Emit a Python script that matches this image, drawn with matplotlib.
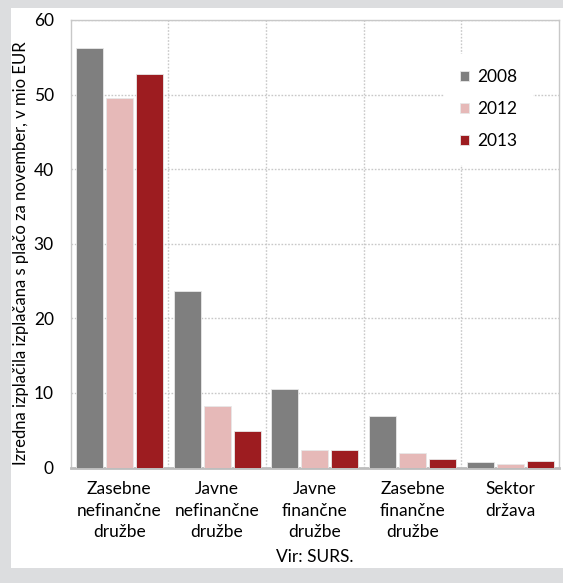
import numpy as np
import matplotlib
matplotlib.use("Agg")
import matplotlib.pyplot as plt
from matplotlib.patches import Rectangle

# sectors and payouts (mio EUR) per year
sectors = ["Zasebne\nnefinančne\ndružbe", "Javne\nnefinančne\ndružbe",
           "Javne\nfinančne\ndružbe", "Zasebne\nfinančne\ndružbe",
           "Sektor\ndržava"]
years = ["2008", "2012", "2013"]
vals_2008 = [56.3, 23.6, 10.5, 6.9, 0.7]
vals_2012 = [49.5, 8.2, 2.3, 1.9, 0.5]
vals_2013 = [52.8, 4.9, 2.4, 1.1, 0.9]

COLORS = ["#7f7f7f", "#e6b9b8", "#9d1c20"]
BG = "#dcdddf"
GRID = "#c8c8c8"
FS = 12.5

plt.rcParams['font.family'] = ['Lato', 'DejaVu Sans']

W, H = 563, 583
fig = plt.figure(figsize=(W / 100, H / 100), dpi=100, facecolor=BG)

# white card behind the chart
card = fig.add_axes([11 / W, 1 - 568 / H, (W - 11) / W, (568 - 8) / H])
card.set_zorder(0)
card.axis("off")
card.add_patch(Rectangle((0, 0), 1, 1, transform=card.transAxes,
                         facecolor="white", edgecolor="none"))

ax = fig.add_axes([70.5 / W, 1 - 467.5 / H, (559 - 70.5) / W, (467.5 - 20) / H])
ax.set_zorder(2)
ax.set_facecolor("white")

x = np.arange(len(sectors))
step, width = 0.307, 0.276
for i, (yr, vals) in enumerate(zip(years, [vals_2008, vals_2012, vals_2013])):
    ax.bar(x + (i - 1) * step, vals, width, color=COLORS[i], label=yr,
           edgecolor="#e8e8e8", linewidth=0.6, zorder=3)

ax.set_xlim(-0.5, len(sectors) - 0.5)
ax.set_ylim(0, 60)
ax.set_yticks(range(0, 61, 10))
ax.set_xticks(x)
ax.set_xticklabels(sectors, fontsize=FS, linespacing=1.4)
ax.set_xticks(x[:-1] + 0.5, minor=True)
ax.tick_params(axis="y", length=0, pad=12, labelsize=FS)
ax.tick_params(axis="x", which="both", length=0, pad=10)

ax.grid(axis="y", which="major", linestyle=(0, (1.2, 1.2)), color=GRID, lw=1, zorder=0)
ax.grid(axis="x", which="minor", linestyle=(0, (1.2, 1.2)), color=GRID, lw=1, zorder=0)

for side in ["left", "top", "right"]:
    ax.spines[side].set_color(GRID)
    ax.spines[side].set_linewidth(1)
ax.spines["bottom"].set_color("#bdbdbd")
ax.spines["bottom"].set_linewidth(2)

ax.set_ylabel("Izredna izplačila izplačana s plačo za november, v mio EUR",
              fontsize=12)
ax.yaxis.set_label_coords((29 - 70.5) / 488.5, 0.48)

leg = ax.legend(loc="upper left", bbox_to_anchor=(0.765, 0.925), frameon=True,
                fontsize=FS, handlelength=0.55, handleheight=0.55,
                handletextpad=0.45, labelspacing=0.92, borderpad=0.9,
                borderaxespad=0)
leg.get_frame().set_facecolor("white")
leg.get_frame().set_edgecolor("none")
leg.get_frame().set_alpha(1)

fig.text((70.5 + 559) / 2 / W, 1 - 557 / H, "Vir: SURS.", ha="center",
         va="center", fontsize=FS, zorder=3)

fig.savefig("out.png", dpi=100, facecolor=BG)
